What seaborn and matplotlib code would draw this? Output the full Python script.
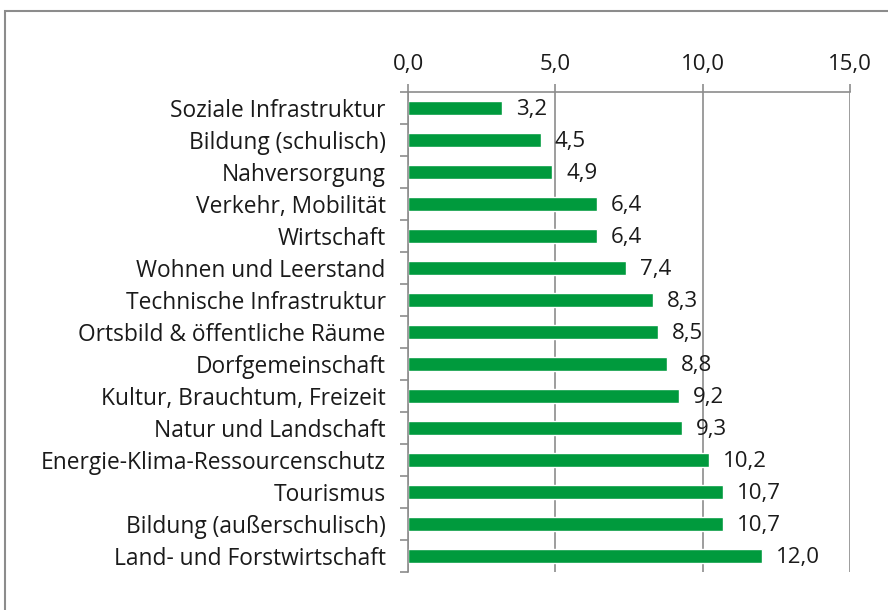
import numpy as np
import matplotlib.pyplot as plt
import seaborn as sns
import pandas as pd
from matplotlib.patches import Rectangle
from matplotlib.ticker import FixedLocator

# data
themen = ['Soziale Infrastruktur', 'Bildung (schulisch)', 'Nahversorgung',
          'Verkehr, Mobilität', 'Wirtschaft', 'Wohnen und Leerstand',
          'Technische Infrastruktur', 'Ortsbild & öffentliche Räume',
          'Dorfgemeinschaft', 'Kultur, Brauchtum, Freizeit',
          'Natur und Landschaft', 'Energie-Klima-Ressourcenschutz',
          'Tourismus', 'Bildung (außerschulisch)', 'Land- und Forstwirtschaft']
werte = [3.2, 4.5, 4.9, 6.4, 6.4, 7.4, 8.3, 8.5, 8.8, 9.2, 9.3, 10.2, 10.7, 10.7, 12.0]
x_ticks = [0, 5, 10, 15]

df = pd.DataFrame({'Thema': themen, 'Wert': werte})

sns.set_style('white')
plt.rcParams['font.family'] = ['Open Sans', 'DejaVu Sans']

fig = plt.figure(figsize=(8.88, 6.10), dpi=100)
ax = fig.add_axes([408 / 888, 1 - 572 / 610, (850 - 408) / 888, (572 - 92) / 610])

sns.barplot(data=df, x='Wert', y='Thema', orient='h', color='#009A3D',
            saturation=1, width=0.42, ax=ax)

grau = '#8c8c8c'
fs = 16
ax.set_xlim(0, 15)
ax.set_ylim(len(themen) - 0.5, -0.5)
ax.xaxis.tick_top()
ax.set_xticks(x_ticks)
ax.set_xticklabels([f'{t:.1f}'.replace('.', ',') for t in x_ticks])
ax.tick_params(axis='x', which='major', top=True, direction='out', length=6, width=1.2,
               color=grau, pad=6, labelsize=fs, labelcolor='#1a1a1a')
ax.grid(axis='x', color=grau, linewidth=1.2)
ax.set_axisbelow(True)

# category ticks between the bars
ax.tick_params(axis='y', which='major', left=False, length=0, pad=16, labelsize=16.4,
               labelcolor='#1a1a1a')
ax.yaxis.set_minor_locator(FixedLocator(np.arange(-0.5, len(themen), 1)))
ax.tick_params(axis='y', which='minor', left=True, direction='out', length=6,
               width=1.2, color=grau)
ax.set_xlabel('')
ax.set_ylabel('')

for s in ['right', 'bottom']:
    ax.spines[s].set_visible(False)
for s in ['left', 'top']:
    ax.spines[s].set_color(grau)
    ax.spines[s].set_linewidth(1.2)

for i, v in enumerate(werte):
    ax.annotate(f'{v:.1f}'.replace('.', ','), (v, i), xytext=(10, -1),
                textcoords='offset points', va='center', ha='left',
                fontsize=fs, color='#1a1a1a')

# outer frame of the chart area
fig.patches.append(Rectangle((5 / 888, -0.1), 1.2, 1.1 - 11 / 610,
                             transform=fig.transFigure, fill=False,
                             edgecolor=grau, linewidth=1.5))

fig.savefig('out.png', dpi=100)
